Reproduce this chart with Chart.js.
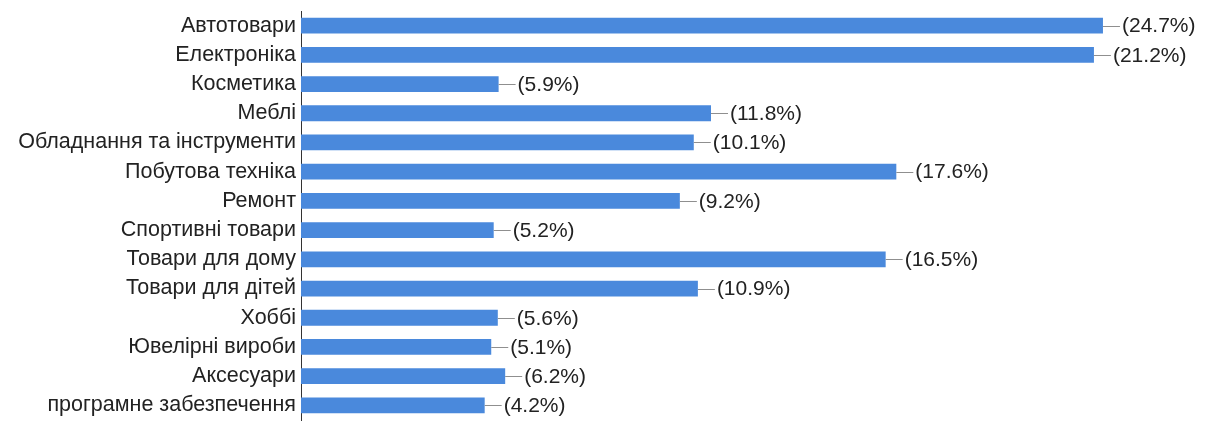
<!DOCTYPE html>
<html>
<head>
<meta charset="utf-8">
<script src="https://cdn.jsdelivr.net/npm/chart.js@4.4.1/dist/chart.umd.min.js"></script>
<style>
  html, body { margin: 0; padding: 0; background: #ffffff; }
  #wrap { width: 1210px; height: 436px; position: relative; }
</style>
</head>
<body>
<div id="wrap"><canvas id="c" width="1210" height="436"></canvas></div>
<script>
const categories = [
  "Автотовари",
  "Електроніка",
  "Косметика",
  "Меблі",
  "Обладнання та інструменти",
  "Побутова техніка",
  "Ремонт",
  "Спортивні товари",
  "Товари для дому",
  "Товари для дітей",
  "Хоббі",
  "Ювелірні вироби",
  "Аксесуари",
  "програмне забезпечення"
];
const barValues = [97.8, 96.7, 24.1, 50.0, 47.9, 72.6, 46.2, 23.5, 71.3, 48.4, 24.0, 23.2, 24.9, 22.4];
const percentLabels = ["24.7%", "21.2%", "5.9%", "11.8%", "10.1%", "17.6%", "9.2%", "5.2%", "16.5%", "10.9%", "5.6%", "5.1%", "6.2%", "4.2%"];

const FONT_FAMILY = "Arial, 'Liberation Sans', sans-serif";
const CAT_FONT_SIZE = 21.5;
const VAL_FONT_SIZE = 21;

const valueLabelPlugin = {
  id: 'valueLabels',
  afterDatasetsDraw(chart) {
    const ctx = chart.ctx;
    const meta = chart.getDatasetMeta(0);
    ctx.save();
    ctx.font = VAL_FONT_SIZE + "px " + FONT_FAMILY;
    ctx.textBaseline = 'middle';
    ctx.textAlign = 'left';
    meta.data.forEach((bar, i) => {
      const x = bar.x;
      const y = Math.round(bar.y) + 0.5;
      ctx.strokeStyle = '#8f8f8f';
      ctx.lineWidth = 1;
      ctx.beginPath();
      ctx.moveTo(x, y);
      ctx.lineTo(x + 17, y);
      ctx.stroke();
      ctx.fillStyle = '#222222';
      ctx.fillText('(' + percentLabels[i] + ')', x + 19, bar.y + 1);
    });
    ctx.restore();
  }
};

new Chart(document.getElementById('c'), {
  type: 'bar',
  data: {
    labels: categories,
    datasets: [{
      data: barValues,
      backgroundColor: '#4a89dc',
      borderWidth: 0,
      barPercentage: 0.9,
      categoryPercentage: 0.6
    }]
  },
  options: {
    indexAxis: 'y',
    responsive: false,
    animation: false,
    devicePixelRatio: 1,
    layout: { padding: { top: 11, bottom: 16, left: 0, right: 89 } },
    plugins: {
      legend: { display: false },
      tooltip: { enabled: false }
    },
    scales: {
      x: {
        display: false,
        min: 0,
        max: 100
      },
      y: {
        afterFit(scale) {
          scale.width = 301;
          scale.paddingTop = 0;
          scale.paddingBottom = 0;
        },
        grid: { display: false, drawTicks: false },
        border: { display: true, color: '#333333', width: 1 },
        ticks: {
          color: '#222222',
          padding: 5,
          font: { family: FONT_FAMILY, size: CAT_FONT_SIZE }
        }
      }
    }
  },
  plugins: [valueLabelPlugin]
});
</script>
</body>
</html>
